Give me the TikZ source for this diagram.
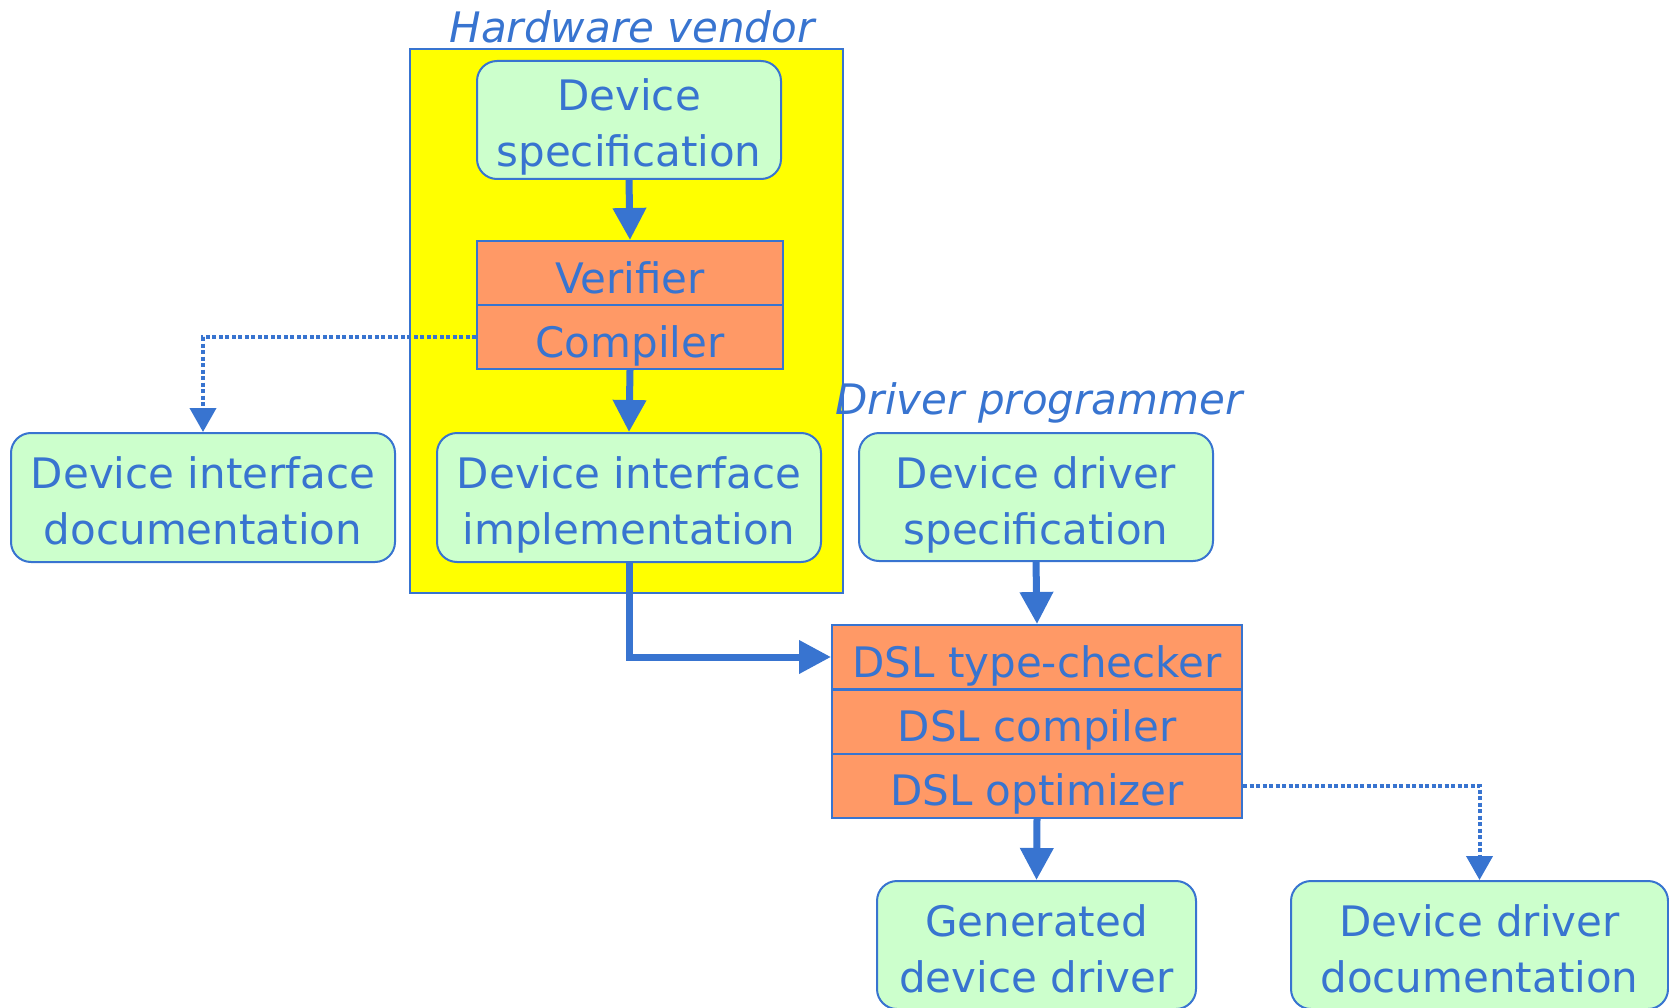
\documentclass[tikz,border=0pt]{standalone}
\usepackage{fontspec}
\setmainfont{DejaVu Sans}
\usepackage{xcolor}
\usetikzlibrary{arrows.meta}
\definecolor{lineblue}{RGB}{56,116,208}
\definecolor{boxgreen}{RGB}{204,255,204}
\definecolor{toolorange}{RGB}{255,153,102}
\definecolor{vendoryellow}{RGB}{255,255,0}

\begin{document}
\begin{tikzpicture}[x=1pt, y=-1pt,
    docbox/.style={rectangle, draw=lineblue, fill=boxgreen, rounded corners=20pt, line width=2pt, align=center, text=lineblue, font=\fontsize{42}{56}\selectfont, inner sep=0pt, text height=94pt, text depth=0pt},
    toolbox/.style={rectangle, draw=lineblue, fill=toolorange, line width=2pt, minimum height=64pt, text=lineblue, font=\fontsize{42}{56}\selectfont, inner sep=0pt, text height=40pt, text depth=0pt},
    roletext/.style={text=lineblue, font=\fontsize{42}{56}\selectfont\itshape, inner sep=0pt, anchor=base},
    flow/.style={-{Triangle[length=32pt,width=32pt]}, draw=lineblue, line width=7pt},
    doclink/.style={-{Triangle[length=24pt,width=26pt]}, draw=lineblue, line width=4pt, dash pattern=on 4pt off 2.5pt}
]
    \useasboundingbox (0,0) rectangle (1669,1008);

    % Hardware vendor side
    \node[draw=lineblue, fill=vendoryellow, line width=1.5pt, minimum width=433pt, minimum height=544pt] (vendorbox) at (626.5,321) {};
    \node[roletext] (vendorlabel) at (632,43) {Hardware vendor};

    \node[docbox, minimum width=304pt, minimum height=118pt] (devspec) at (629,120) {Device\\specification};
    \node[toolbox, minimum width=306pt] (verifier) at (630,273) {Verifier};
    \node[toolbox, minimum width=306pt] (compiler) at (630,337) {Compiler};
    \node[docbox, minimum width=384pt, minimum height=129pt] (implem) at (629,497.5) {Device interface\\implementation};
    \node[docbox, minimum width=384pt, minimum height=129pt] (ifdoc) at (203,497.5) {Device interface\\documentation};

    \draw[flow] (devspec.south) -- (verifier.north);
    \draw[flow] (compiler.south) -- (implem.north);
    \draw[doclink] (compiler.west) -| (ifdoc.north);

    % Driver programmer side
    \node[roletext] (driverlabel) at (1039,414) {Driver programmer};
    \node[docbox, minimum width=354pt, minimum height=128pt] (drvspec) at (1036,497) {Device driver\\specification};

    \node[toolbox, minimum width=410pt] (typechk) at (1037,657) {DSL type-checker};
    \node[toolbox, minimum width=410pt] (dslcomp) at (1037,721.5) {DSL compiler};
    \node[toolbox, minimum width=410pt] (dslopt) at (1037,785.5) {DSL optimizer};

    \node[docbox, minimum width=319pt, minimum height=128pt] (gendrv) at (1036.5,945) {Generated\\device driver};
    \node[docbox, minimum width=377pt, minimum height=128pt] (drvdoc) at (1479.5,945) {Device driver\\documentation};

    \draw[flow] (implem.south) |- (typechk.west);
    \draw[flow] (drvspec.south) -- (typechk.north);
    \draw[flow] (dslopt.south) -- (gendrv.north);
    \draw[doclink] (dslopt.east) -| (drvdoc.north);

\end{tikzpicture}
\end{document}
